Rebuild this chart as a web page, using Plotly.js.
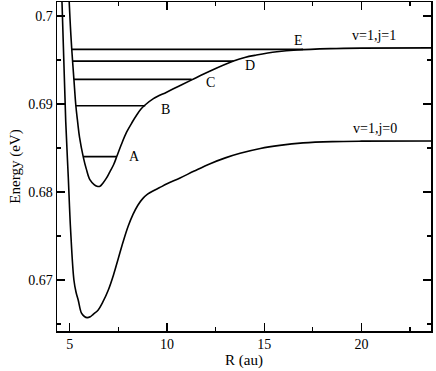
<!DOCTYPE html>
<html>
<head>
<meta charset="utf-8">
<script src="https://cdn.plot.ly/plotly-3.0.1.min.js"></script>
<style>
  html, body { margin: 0; padding: 0; background: #ffffff; }
  #chart { width: 436px; height: 371px; }
</style>
</head>
<body>
<div id="chart"></div>
<script>
// v=1,j=0 curve
const lowerR = [4.55, 4.6, 4.79, 4.92, 5.04, 5.21, 5.32, 5.43, 5.6, 5.75, 5.89, 6.05, 6.2, 6.46, 6.7, 6.98, 7.25, 7.5, 7.75, 8.0, 8.25, 8.5, 8.75, 9.0, 9.3, 9.6, 10.0, 10.67, 11.4, 12.22, 13.0, 13.76, 14.8, 15.8, 17.0, 18.5, 20.0, 23.6];
const lowerE = [0.7035, 0.7014, 0.68797, 0.6817, 0.67568, 0.67, 0.6686, 0.66773, 0.66622, 0.66585, 0.66572, 0.66582, 0.6661, 0.6666, 0.6675, 0.66886, 0.6706, 0.6725, 0.6744, 0.6761, 0.67745, 0.6785, 0.67925, 0.67975, 0.68015, 0.68048, 0.68093, 0.6816, 0.68238, 0.68322, 0.68388, 0.6844, 0.68495, 0.6853, 0.68558, 0.68573, 0.68578, 0.6858];

// v=1,j=1 curve
const upperR = [4.93, 4.97, 5.03, 5.1, 5.21, 5.31, 5.4, 5.5, 5.69, 5.85, 6.03, 6.25, 6.4, 6.55, 6.7, 6.89, 7.06, 7.25, 7.41, 7.65, 7.92, 8.2, 8.44, 8.65, 8.87, 9.3, 9.98, 10.6, 11.27, 12.22, 13.42, 14.0, 14.6, 15.65, 16.7, 18.4, 20.0, 23.6];
const upperE = [0.7035, 0.7015, 0.6988, 0.6962, 0.6928, 0.6898, 0.6880, 0.6862, 0.6840, 0.6826, 0.6814, 0.68085, 0.68065, 0.68065, 0.6810, 0.6816, 0.6823, 0.6831, 0.6840, 0.6854, 0.6868, 0.6879, 0.68875, 0.6894, 0.68989, 0.69062, 0.69135, 0.69203, 0.69275, 0.69375, 0.69488, 0.6953, 0.69557, 0.69594, 0.69615, 0.6963, 0.69636, 0.69639];

// bound levels
const levelNames = ['A', 'B', 'C', 'D', 'E'];
const levelE = [0.68402, 0.68981, 0.6928, 0.69488, 0.69621];
const levelStart = [5.69, 5.31, 5.21, 5.12, 5.09];
const levelEnd = [7.42, 8.88, 11.27, 13.42, 17.0];
const levelLabelR = [8.35, 9.9, 12.22, 14.28, 16.77];
const levelLabelE = [0.684, 0.6894, 0.69247, 0.69443, 0.69726];

const curveNames = ['v=1,j=1', 'v=1,j=0'];
const curveLabelR = [20.63, 20.72];
const curveLabelE = [0.69783, 0.68724];

const xRange = [4.34, 23.58];
const yRange = [0.6642, 0.7016];

const serif = 'Liberation Serif';
const lineStyle = { color: '#000000', width: 1.6 };

const traces = [
  { x: lowerR, y: lowerE, type: 'scatter', mode: 'lines', line: Object.assign({ shape: 'spline', smoothing: 1 }, lineStyle), hoverinfo: 'skip' },
  { x: upperR, y: upperE, type: 'scatter', mode: 'lines', line: Object.assign({ shape: 'spline', smoothing: 1 }, lineStyle), hoverinfo: 'skip' },
];

levelE.forEach((e, i) => {
  traces.push({
    x: [levelStart[i], levelEnd[i]],
    y: [e, e],
    type: 'scatter',
    mode: 'lines',
    line: lineStyle,
    hoverinfo: 'skip',
  });
});

const annotations = [];
levelNames.forEach((name, i) => {
  annotations.push({ x: levelLabelR[i], y: levelLabelE[i], text: name, showarrow: false, font: { family: serif, size: 14, color: '#000' } });
});
curveNames.forEach((name, i) => {
  annotations.push({ x: curveLabelR[i], y: curveLabelE[i], text: name, showarrow: false, font: { family: serif, size: 14, color: '#000' } });
});

const axisCommon = {
  showgrid: false,
  zeroline: false,
  showline: true,
  linecolor: '#000',
  linewidth: 1.5,
  mirror: 'ticks',
  ticks: 'inside',
  ticklen: 8,
  tickwidth: 1.3,
  tickcolor: '#000',
  tickfont: { family: serif, size: 14, color: '#000' },
};

Plotly.newPlot('chart', traces, {
  width: 436,
  height: 371,
  showlegend: false,
  font: { family: serif, color: '#000' },
  paper_bgcolor: '#ffffff',
  plot_bgcolor: '#ffffff',
  margin: { l: 57, r: 5, t: 2, b: 40 },
  xaxis: Object.assign({}, axisCommon, {
    range: xRange,
    tick0: 0,
    dtick: 5,
    minor: { dtick: 2.5, ticks: 'inside', ticklen: 4, tickwidth: 1.3, tickcolor: '#000' },
    title: { text: 'R (au)', font: { family: serif, size: 15, color: '#000' }, standoff: 2 },
  }),
  yaxis: Object.assign({}, axisCommon, {
    range: yRange,
    tick0: 0,
    dtick: 0.01,
    minor: { dtick: 0.005, ticks: 'inside', ticklen: 4, tickwidth: 1.3, tickcolor: '#000' },
    title: { text: 'Energy (eV)', font: { family: serif, size: 15, color: '#000' }, standoff: 4 },
  }),
  annotations: annotations,
}, { staticPlot: true });
</script>
</body>
</html>
